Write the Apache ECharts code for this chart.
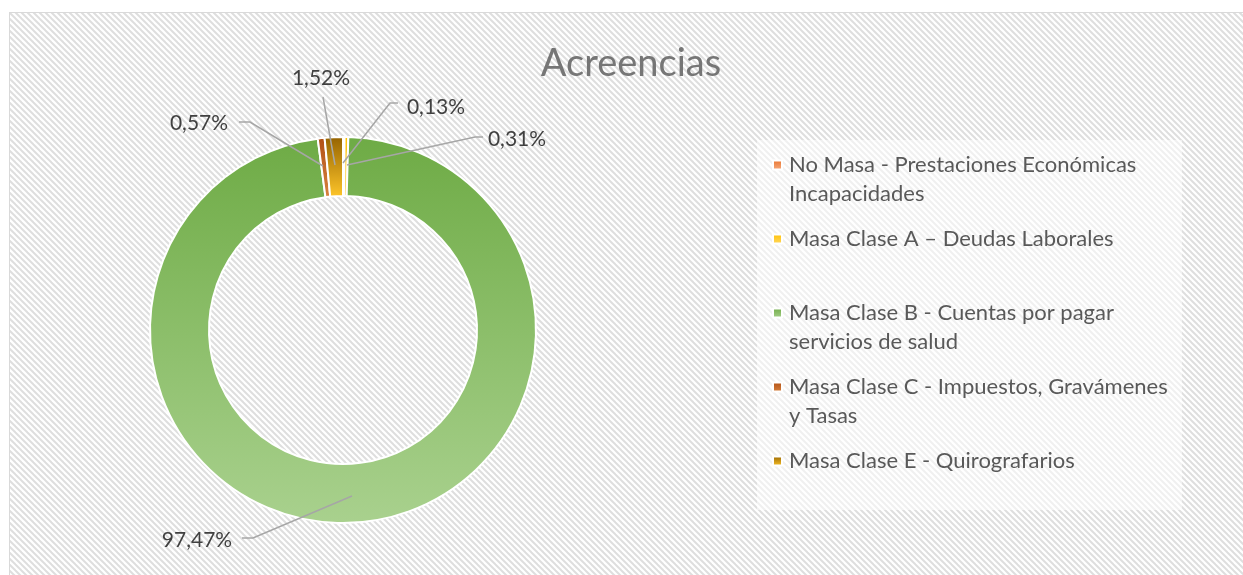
<!DOCTYPE html>
<html>
<head>
<meta charset="utf-8">
<title>Acreencias</title>
<script src="https://cdn.jsdelivr.net/npm/echarts@6/dist/echarts.min.js"></script>
<style>
  html, body { margin: 0; padding: 0; background: #fff; overflow: hidden; width: 1243px; height: 575px; }
  #chart { position: absolute; left: 9px; top: 12px; width: 1242px; height: 575px; border: 1px solid #d9d9d9; }
</style>
</head>
<body>
<div id="chart"></div>
<script>
// datos del grafico
var categories = [
    'No Masa - Prestaciones Económicas Incapacidades',
    'Masa Clase A – Deudas Laborales',
    'Masa Clase B - Cuentas por pagar servicios de salud',
    'Masa Clase C - Impuestos, Gravámenes y Tasas',
    'Masa Clase E - Quirografarios'
];
var shares = [0.13, 0.31, 97.47, 0.57, 1.52];

// colores (arriba -> abajo, degradado)
var sliceColors = [
    ['#e9732c', '#f6ad82'],
    ['#ffc000', '#ffd966'],
    ['#6eab45', '#a9d18e'],
    ['#b04f14', '#d8823f'],
    ['#946200', '#ffc62a']
];
// donde va cada etiqueta (centro del texto) y su linea guia
var labelSpots = [[426, 94], [507, 126], [187, 527], [189, 110], [311, 65]];
var guidePaths = [
    [[333, 150], [380, 90], [388, 90]],
    [[337, 152], [465, 124], [473, 124]],
    [[342, 483], [243, 525], [232, 525]],
    [[313, 153], [240, 109], [229, 109]],
    [[325, 152], [313, 84], [313, 84]]
];
// saltos de linea de la leyenda
var legendText = {
    'No Masa - Prestaciones Económicas Incapacidades': ['No Masa - Prestaciones Económicas', 'Incapacidades'],
    'Masa Clase B - Cuentas por pagar servicios de salud': ['Masa Clase B - Cuentas por pagar', 'servicios de salud'],
    'Masa Clase C - Impuestos, Gravámenes y Tasas': ['Masa Clase C - Impuestos, Gravámenes', 'y Tasas']
};
var legendRows = [152, 226, 300, 374, 448];

var grad = function(pair){
    return new echarts.graphic.LinearGradient(0, 0, 0, 1, [
        {offset: 0, color: pair[0]},
        {offset: 1, color: pair[1]}
    ]);
};

// fondo rayado
var tile = document.createElement('canvas');
tile.width = 6; tile.height = 6;
var g = tile.getContext('2d');
g.fillStyle = '#ffffff';
g.fillRect(0, 0, 6, 6);
g.strokeStyle = '#dedede';
g.lineWidth = 2;
[-6, 0, 6].forEach(function(o){
    g.beginPath();
    g.moveTo(o - 1, -1);
    g.lineTo(o + 7, 7);
    g.stroke();
});

var LH = 29;
var legends = categories.map(function(name, i){
    var lines = legendText[name];
    return {
        data: [name],
        left: 762,
        top: lines ? legendRows[i] - LH * 1.5 : legendRows[i] - LH / 2,
        orient: 'vertical',
        icon: 'rect',
        itemWidth: 9,
        itemHeight: 9,
        padding: 0,
        selectedMode: false,
        formatter: function(n){
            var l = legendText[n];
            return l ? ' \n' + l[0] + '\n' + l[1] : n;
        },
        textStyle: {
            fontFamily: 'Lato',
            fontSize: 22,
            lineHeight: LH,
            color: '#595959',
            padding: [0, 0, 0, 2]
        }
    };
});

var pieBase = {
    type: 'pie',
    center: [333, 317],
    radius: [134, 193],
    startAngle: 90,
    clockwise: true,
    avoidLabelOverlap: false,
    emphasis: {disabled: true}
};

var chart = echarts.init(document.getElementById('chart'), null, {renderer: 'canvas'});
var option = {
    backgroundColor: '#ffffff',
    animation: false,
    graphic: [
        {
            type: 'rect', z: 0, silent: true,
            shape: {x: 0, y: 0, width: 1242, height: 575},
            style: {fill: {image: tile, repeat: 'repeat'}}
        },
        {
            type: 'rect', z: 1, silent: true,
            shape: {x: 747, y: 127, width: 425, height: 370},
            style: {fill: 'rgba(255,255,255,0.55)'}
        }
    ],
    title: {
        text: 'Acreencias',
        left: 'center',
        top: 27,
        textStyle: {
            fontFamily: 'Lato',
            fontSize: 38,
            fontWeight: 'normal',
            color: '#767676'
        }
    },
    legend: legends,
    series: [
        // anillo con colores
        Object.assign({}, pieBase, {
            z: 2,
            itemStyle: {borderColor: '#ffffff', borderWidth: 2},
            label: {show: false},
            labelLine: {show: false},
            data: categories.map(function(name, i){
                return {name: name, value: shares[i], itemStyle: {color: grad(sliceColors[i])}};
            })
        }),
        // misma serie transparente encima, solo para etiquetas y lineas guia
        Object.assign({}, pieBase, {
            z: 3,
            silent: true,
            itemStyle: {color: 'rgba(0,0,0,0)', borderWidth: 0},
            label: {
                show: true,
                position: 'outside',
                fontFamily: 'Lato',
                fontSize: 21,
                color: '#404040',
                formatter: function(p){
                    return p.value.toFixed(2).replace('.', ',') + '%';
                }
            },
            labelLine: {
                show: true,
                length: 10,
                length2: 10,
                lineStyle: {color: '#a6a6a6', width: 1.5}
            },
            labelLayout: function(params){
                var s = labelSpots[params.dataIndex];
                return {
                    x: s[0], y: s[1], align: 'center', verticalAlign: 'middle',
                    labelLinePoints: guidePaths[params.dataIndex]
                };
            },
            data: categories.map(function(name, i){
                return {name: name, value: shares[i]};
            })
        })
    ]
};
chart.setOption(option);
</script>
</body>
</html>
